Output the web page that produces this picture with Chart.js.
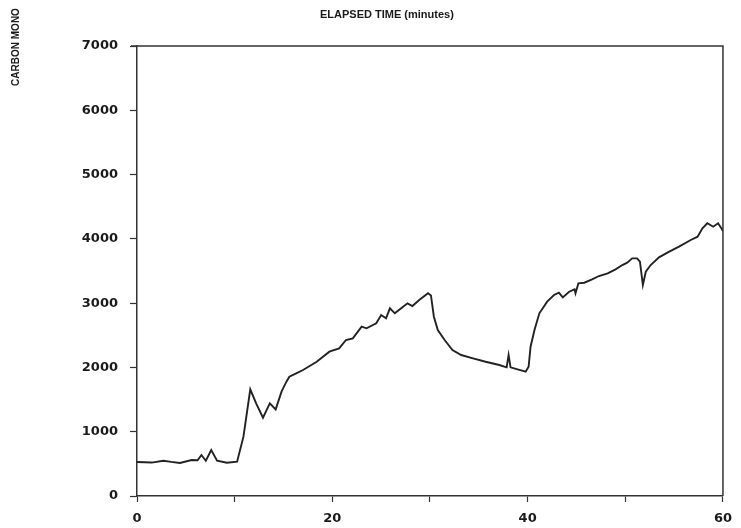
<!DOCTYPE html>
<html>
<head>
<meta charset="utf-8">
<script src="https://cdn.jsdelivr.net/npm/chart.js@4.4.1/dist/chart.umd.min.js"></script>
<style>
  html, body { margin: 0; padding: 0; background: #ffffff; }
  #wrap { width: 741px; height: 528px; position: relative; }
</style>
</head>
<body>
<div id="wrap"><canvas id="c" width="741" height="528"></canvas></div>
<script>
const chartTitle = "ELAPSED TIME (minutes)";
const yAxisTitle = "CARBON MONO";
const yTicks = [0, 1000, 2000, 3000, 4000, 5000, 6000, 7000];
const xTickLabels = [0, 20, 40, 60];

const timeMin = [0, 1.5, 2.7, 3.5, 4.4, 5.6, 6.2, 6.6, 7.05, 7.6, 8.2, 9.2, 10.25, 10.9, 11.6, 12.2, 12.9, 13.6, 14.2, 14.8, 15.3, 15.6, 16.3, 17.0, 18.4, 19.7, 20.7, 21.4, 22.1, 23.0, 23.5, 24.5, 25.0, 25.5, 25.9, 26.4, 27.05, 27.7, 28.2, 28.9, 29.8, 30.1, 30.4, 30.8, 31.5, 32.3, 33.2, 34.4, 35.7, 37.1, 37.85, 38.05, 38.25, 38.97, 39.8, 40.1, 40.3, 40.7, 41.2, 42.0, 42.7, 43.2, 43.6, 44.25, 44.8, 44.9, 45.2, 45.8, 46.6, 47.3, 48.2, 49.0, 49.7, 50.2, 50.7, 51.2, 51.5, 51.8, 52.1, 52.6, 53.45, 54.5, 55.5, 56.7, 57.4, 57.9, 58.4, 59.0, 59.5, 59.9, 60];
const carbonMono = [530, 520, 549, 530, 513, 560, 555, 638, 549, 716, 549, 518, 534, 923, 1660, 1442, 1218, 1442, 1348, 1623, 1778, 1856, 1908, 1960, 2089, 2245, 2297, 2427, 2453, 2634, 2608, 2686, 2815, 2764, 2920, 2842, 2920, 2997, 2955, 3049, 3153, 3120, 2789, 2582, 2427, 2271, 2193, 2142, 2089, 2038, 2002, 2193, 2002, 1971, 1934, 2011, 2323, 2582, 2842, 3023, 3127, 3163, 3090, 3178, 3215, 3153, 3309, 3318, 3370, 3422, 3464, 3526, 3593, 3629, 3697, 3697, 3645, 3282, 3489, 3593, 3713, 3800, 3878, 3982, 4034, 4164, 4242, 4189, 4242, 4148, 4120];

const points = timeMin.map((t, i) => ({ x: t, y: carbonMono[i] }));

const ink = '#1a1a1a';

const frameAndText = {
  id: 'frameAndText',
  afterDraw(chart) {
    const ctx = chart.ctx;
    const a = chart.chartArea;
    ctx.save();
    ctx.strokeStyle = '#333';
    ctx.lineWidth = 1.5;
    ctx.beginPath();
    ctx.moveTo(a.left - 6, a.top);
    ctx.lineTo(a.right, a.top);
    ctx.lineTo(a.right, a.bottom);
    ctx.stroke();
    ctx.fillStyle = ink;
    ctx.font = 'bold 11px "Liberation Sans", Arial, sans-serif';
    ctx.textAlign = 'left';
    ctx.textBaseline = 'middle';
    ctx.fillText(chartTitle, 320, 15);
    ctx.translate(16, 47);
    ctx.rotate(-Math.PI / 2);
    ctx.textAlign = 'center';
    ctx.font = 'bold 10px "Liberation Sans", Arial, sans-serif';
    ctx.fillText(yAxisTitle, 0, 0);
    ctx.restore();
  }
};

new Chart(document.getElementById('c'), {
  type: 'line',
  data: {
    datasets: [{
      data: points,
      borderColor: '#222',
      borderWidth: 1.9,
      pointRadius: 0,
      tension: 0,
      fill: false
    }]
  },
  options: {
    responsive: false,
    animation: false,
    devicePixelRatio: 1,
    layout: { padding: { top: 46, right: 17, left: 0, bottom: 0 } },
    plugins: { legend: { display: false }, tooltip: { enabled: false }, title: { display: false } },
    scales: {
      x: {
        type: 'linear',
        min: 0, max: 60,
        afterFit(s) { s.height = 32; },
        afterBuildTicks(s) { s.ticks = [0, 10, 20, 30, 40, 50, 60].map(v => ({ value: v })); },
        ticks: {
          color: ink,
          font: { family: '"DejaVu Sans", sans-serif', size: 13, weight: 'bold' },
          padding: 9,
          maxRotation: 0,
          autoSkip: false,
          callback: (v) => xTickLabels.includes(v) ? String(v) : ''
        },
        grid: { drawOnChartArea: false, drawTicks: true, tickLength: 6, tickColor: '#333', tickWidth: 1.2 },
        border: { display: true, color: '#333', width: 1.5 }
      },
      y: {
        min: 0, max: 7000,
        afterFit(s) { s.width = 137; },
        afterBuildTicks(s) { s.ticks = yTicks.map(v => ({ value: v })); },
        ticks: {
          color: ink,
          font: { family: '"DejaVu Sans", sans-serif', size: 13, weight: 'bold' },
          padding: 12,
          callback: (v) => String(v)
        },
        grid: { drawOnChartArea: false, drawTicks: true, tickLength: 7, tickColor: '#333', tickWidth: 1.2 },
        border: { display: true, color: '#333', width: 1.5 }
      }
    }
  },
  plugins: [frameAndText]
});
</script>
</body>
</html>
